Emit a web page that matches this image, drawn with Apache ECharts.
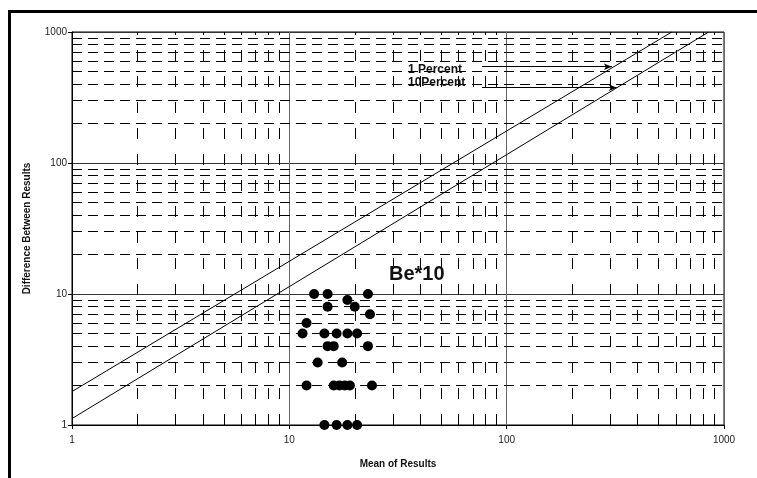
<!DOCTYPE html>
<html>
<head>
<meta charset="utf-8">
<script src="https://cdn.jsdelivr.net/npm/echarts@6/dist/echarts.min.js"></script>
<style>
html,body{margin:0;padding:0;background:#fff;}
#chart{width:757px;height:478px;}
</style>
</head>
<body>
<div id="chart"></div>
<script>
// ---- data ----
var xTickLabels = ['1', '10', '100', '1000'];
var yTickLabels = ['1', '10', '100', '1000'];
var minorGrid = [2,3,4,5,6,7,8,9,20,30,40,50,60,70,80,90,200,300,400,500,600,700,800,900];
var be10Points = [
  [13,10],[15,10],[23,10],
  [18.5,9],
  [15,8],[20,8],
  [23.5,7],
  [12,6],
  [11.5,5],[14.5,5],[16.5,5],[18.5,5],[20.5,5],
  [15,4],[16,4],[23,4],
  [13.5,3],[17.5,3],
  [12,2],[16,2],[17,2],[18,2],[19,2],[24,2],
  [14.5,1],[16.5,1],[18.5,1],[20.5,1]
];
var onePercentLine = [[1,1.8],[575,1000]];
var tenPercentLine = [[1,1.12],[850,1000]];
var onePercentArrow = [[77,543],[305,543]];
var tenPercentArrow = [[77,376],[321,376]];
var labelOne = '1 Percent';
var labelTen = '10Percent';
var labelBe = 'Be*10';

var FONT = 'Liberation Sans, Arial, sans-serif';

var chart = echarts.init(document.getElementById('chart'), null, {renderer:'canvas'});
var option = {
  animation: false,
  backgroundColor: '#fff',
  grid: {left:72, right:33, top:32, bottom:53, show:true, borderColor:'#000', borderWidth:1, backgroundColor:'transparent'},
  xAxis: {
    type:'log', logBase:10, min:1, max:1000,
    name:'Mean of Results', nameLocation:'middle', nameGap:34,
    nameTextStyle:{fontFamily:FONT, fontWeight:'bold', fontSize:10, color:'#111'},
    axisLine:{show:true, lineStyle:{color:'#000', width:1}},
    axisTick:{show:true, length:4, lineStyle:{color:'#000'}},
    axisLabel:{fontFamily:FONT, fontSize:10, color:'#222', margin:10,
      formatter:function(v){ var i=Math.round(Math.log10(v)); return xTickLabels[i]; }},
    splitLine:{show:true, lineStyle:{color:'#666', width:1, type:'solid'}}
  },
  yAxis: {
    type:'log', logBase:10, min:1, max:1000,
    name:'Difference Between Results', nameLocation:'middle', nameGap:40, nameRotate:90,
    nameTextStyle:{fontFamily:FONT, fontWeight:'bold', fontSize:10, color:'#111'},
    axisLine:{show:true, lineStyle:{color:'#000', width:1}},
    axisTick:{show:true, length:4, lineStyle:{color:'#000'}},
    axisLabel:{fontFamily:FONT, fontSize:10, color:'#222', margin:5,
      formatter:function(v){ var i=Math.round(Math.log10(v)); return yTickLabels[i]; }},
    splitLine:{show:true, lineStyle:{color:'#333', width:1, type:'solid'}}
  },
  series: [
    {
      type:'line', data:[], silent:true, z:1,
      markLine:{
        silent:true, symbol:['none','none'], label:{show:false},
        lineStyle:{color:'#000', width:1, type:[11,15]},
        emphasis:{disabled:true},
        data: minorGrid.map(function(v){ return {xAxis:v}; })
      }
    },
    {
      type:'line', data:[], silent:true, z:1,
      markLine:{
        silent:true, symbol:['none','none'], label:{show:false},
        lineStyle:{color:'#000', width:1, type:[10,6]},
        emphasis:{disabled:true},
        data: minorGrid.map(function(v){ return {yAxis:v}; })
      }
    },
    {
      type:'line', data:onePercentLine, symbol:'none', silent:true, z:3,
      lineStyle:{color:'#000', width:1}
    },
    {
      type:'line', data:tenPercentLine, symbol:'none', silent:true, z:3,
      lineStyle:{color:'#000', width:1}
    },
    {
      type:'scatter', data:be10Points, symbol:'circle', symbolSize:10, z:4,
      itemStyle:{color:'#000', opacity:1}
    },
    {
      type:'line', data:[], silent:true, z:5,
      markLine:{
        silent:true, symbol:['none','arrow'], symbolSize:[5,8], label:{show:false},
        lineStyle:{color:'#000', width:1, type:'solid'},
        emphasis:{disabled:true},
        data:[
          [{coord:onePercentArrow[0]},{coord:onePercentArrow[1]}],
          [{coord:tenPercentArrow[0]},{coord:tenPercentArrow[1]}]
        ]
      }
    }
  ],
  graphic: [
    {type:'rect', silent:true, z:100, shape:{x:9.5, y:11.5, width:800, height:500},
      style:{fill:'none', stroke:'#000', lineWidth:3}},
    {type:'text', left:408, top:64, z:100, style:{text:labelOne, font:'bold 12px '+FONT, fill:'#111'}},
    {type:'text', left:408, top:77, z:100, style:{text:labelTen, font:'bold 12px '+FONT, fill:'#111'}},
    {type:'text', left:389, top:264, z:100, style:{text:labelBe, font:'bold 20px '+FONT, fill:'#111'}}
  ]
};
chart.setOption(option);
</script>
</body>
</html>
